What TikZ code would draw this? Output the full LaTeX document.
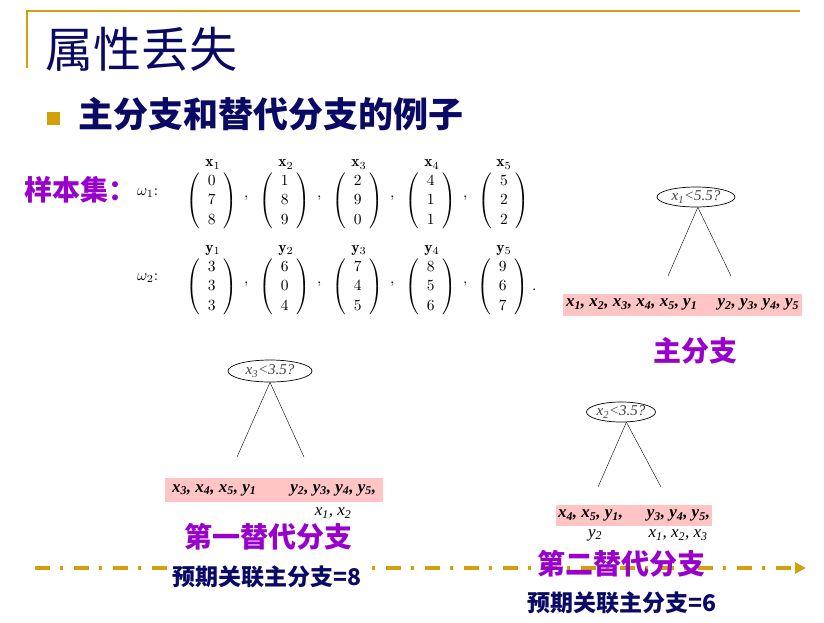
\documentclass[tikz,border=0pt]{standalone}
\usepackage{amsmath}
\usepackage{fontspec}
\newfontfamily\cjk{Noto Sans CJK SC}
\newfontfamily\leaffont{Liberation Serif}
\usepackage{tikz}
\usetikzlibrary{positioning,arrows.meta,shapes.geometric}
\definecolor{navy}{RGB}{10,10,100}
\definecolor{purp}{RGB}{153,0,204}
\definecolor{gold}{RGB}{210,160,10}
\definecolor{leafpink}{RGB}{255,196,196}
\renewcommand\arraystretch{1.05}
\newcommand\smx[1]{x\textsubscript{#1}}
\newcommand\smy[1]{y\textsubscript{#1}}
\newcommand\vecsz[1]{\scalebox{1.55}{#1}}
\newcommand\col[3]{\left(\begin{array}{c}#1\\#2\\#3\end{array}\right)}
\newcommand\sep{\rlap{\hspace{3pt}\raisebox{5pt}{$,$}}}

\begin{document}
\begin{tikzpicture}[
  x=1pt, y=-1pt,
  ttl/.style={font=\cjk\fontsize{48}{52}\selectfont, text=navy, inner sep=0pt},
  sub/.style={font=\cjk\bfseries\fontsize{35}{40}\selectfont, text=navy, inner sep=0pt},
  tag/.style={font=\cjk\bfseries\fontsize{28}{32}\selectfont, text=purp, inner sep=0pt},
  note/.style={font=\cjk\bfseries\fontsize{23}{26}\selectfont, text=navy, inner sep=1pt, fill=white},
  vec/.style={inner sep=0pt},
  lab/.style={inner sep=0pt, label distance=2pt},
  test/.style={draw, line width=0.7pt, ellipse, inner sep=0pt,
               font=\leaffont\itshape\fontsize{15}{17}\selectfont, text=black!75},
  leaf/.style={fill=leafpink, inner ysep=0pt, minimum height=22pt,
               font=\leaffont\bfseries\itshape\fontsize{17}{19}\selectfont},
  rest/.style={inner sep=0pt, font=\leaffont\itshape\fontsize{17}{19}\selectfont},
  axis/.style={gold, line width=3.5pt, dash pattern=on 15pt off 10pt on 3pt off 11pt,
               -{Triangle[length=11pt,width=11pt]}}
]
\useasboundingbox[fill=white] (0,0) rectangle (824,622);
% --- heading -------------------------------------------------------------
\draw[gold, line width=2pt] (27,68) -- (27,11) -- (800,11);
\node[ttl, anchor=west] (title) at (45,49) {属性丢失};
\fill[gold] (47,112) rectangle (60,125);
\node[sub, anchor=west] (subtitle) at (78,114) {主分支和替代分支的例子};
% --- sample set ----------------------------------------------------------
\node[tag, anchor=west] (samples) at (24,190) {样本集：};
\node[vec, anchor=west] (w1) at (137,193) {\vecsz{$\omega_1$:}};
\node[vec, anchor=west] (w2) at (137,278) {\vecsz{$\omega_2$:}};
\node[vec, label={[lab]above:\vecsz{$\mathbf{x}_1$}}] (x1) at (213,201) {\vecsz{$\col078\sep$}};
\node[vec, label={[lab]above:\vecsz{$\mathbf{x}_2$}}] (x2) at (286,201) {\vecsz{$\col189\sep$}};
\node[vec, label={[lab]above:\vecsz{$\mathbf{x}_3$}}] (x3) at (359,201) {\vecsz{$\col290\sep$}};
\node[vec, label={[lab]above:\vecsz{$\mathbf{x}_4$}}] (x4) at (432,201) {\vecsz{$\col411\sep$}};
\node[vec, label={[lab]above:\vecsz{$\mathbf{x}_5$}}] (x5) at (504,201) {\vecsz{$\col522$}};
\node[vec, label={[lab]above:\vecsz{$\mathbf{y}_1$}}] (y1) at (213,287) {\vecsz{$\col333\sep$}};
\node[vec, label={[lab]above:\vecsz{$\mathbf{y}_2$}}] (y2) at (286,287) {\vecsz{$\col604\sep$}};
\node[vec, label={[lab]above:\vecsz{$\mathbf{y}_3$}}] (y3) at (359,287) {\vecsz{$\col745\sep$}};
\node[vec, label={[lab]above:\vecsz{$\mathbf{y}_4$}}] (y4) at (432,287) {\vecsz{$\col856\sep$}};
\node[vec, label={[lab]above:\vecsz{$\mathbf{y}_5$}}] (y5) at (504,287) {\vecsz{$\col967\rlap{\hspace{1pt}$.$}$}};
% --- primary split -------------------------------------------------------
\node[test, minimum width=78pt, minimum height=20pt] (q0) at (696,197) {\smx{1}<5.5?};
\coordinate (q0l) at (668,276);
\coordinate (q0r) at (731,276);
\draw (q0.-80) -- (q0l);
\draw (q0.-80) -- (q0r);
\node[leaf, inner xsep=3pt] (leaf0) at (682.5,304.5)
  {\makebox[233pt][s]{\smx{1}, \smx{2}, \smx{3}, \smx{4}, \smx{5}, \smy{1}\hfill \smy{2}, \smy{3}, \smy{4}, \smy{5}}};
\node[tag] (main) at (695,351) {主分支};
% --- time axis -----------------------------------------------------------
\coordinate (axL) at (35,568);
\coordinate (axR) at (806,568);
\draw[axis] (axL) -- (axR);
% --- first surrogate -----------------------------------------------------
\node[test, minimum width=84pt, minimum height=22pt] (q1) at (270,371) {\smx{3}<3.5?};
\coordinate (q1l) at (237,457);
\coordinate (q1r) at (304,457);
\draw (q1.south) -- (q1l);
\draw (q1.south) -- (q1r);
\node[leaf, inner xsep=7pt, minimum height=24pt] (leaf1) at (274,490)
  {\makebox[204pt][s]{\smx{3}, \smx{4}, \smx{5}, \smy{1}\hfill \smy{2}, \smy{3}, \smy{4}, \smy{5},}};
\node[rest] (rest1) at (333,513) {\smx{1}, \smx{2}};
\node[tag] (sur1) at (268,537) {第一替代分支};
\node[note] (exp1) at (267,577) {预期关联主分支=8};
% --- second surrogate ----------------------------------------------------
\node[test, minimum width=66pt, minimum height=20pt] (q2) at (621,412) {\smx{2}<3.5?};
\coordinate (q2l) at (598,487);
\coordinate (q2r) at (661,487);
\draw (q2.-62) -- (q2l);
\draw (q2.-62) -- (q2r);
\node[leaf, inner xsep=2pt, minimum height=21pt] (leaf2) at (634,515.5)
  {\makebox[152pt][s]{\smx{4}, \smx{5}, \smy{1},\hfill \smy{3}, \smy{4}, \smy{5},}};
\node[rest] (rest2a) at (595,535) {\smy{2}};
\node[rest] (rest2b) at (678,535) {\smx{1}, \smx{2}, \smx{3}};
\node[tag] (sur2) at (621,564) {第二替代分支};
\node[note] (exp2) at (622,603) {预期关联主分支=6};
\end{tikzpicture}
\end{document}
